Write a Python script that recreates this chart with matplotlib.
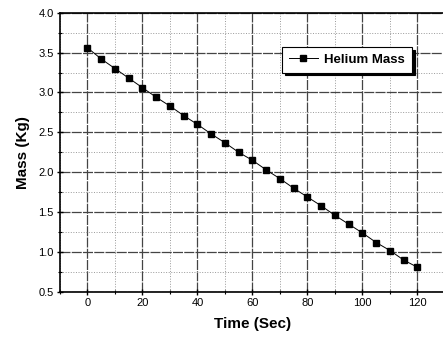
import matplotlib
matplotlib.use("Agg")
import matplotlib.pyplot as plt
from matplotlib.ticker import MultipleLocator

# helium mass readings, every 5 s
time_s = [0, 5, 10, 15, 20, 25, 30, 35, 40, 45, 50, 55, 60,
          65, 70, 75, 80, 85, 90, 95, 100, 105, 110, 115, 120]
mass_kg = [3.56, 3.42, 3.30, 3.18, 3.06, 2.94, 2.83, 2.71, 2.60, 2.48, 2.37, 2.25, 2.15,
           2.03, 1.92, 1.80, 1.69, 1.58, 1.46, 1.35, 1.24, 1.12, 1.02, 0.90, 0.81]

plt.rcParams["font.family"] = ["Liberation Sans", "DejaVu Sans"]

fig = plt.figure(figsize=(4.43, 3.41), dpi=100)
# right spine sits just past the image edge, as in the original scan
ax = fig.add_axes([0.1354, 0.1437, 0.869, 0.8191])

ax.plot(time_s, mass_kg, color="black", lw=0.7, marker="s", ms=5,
        markerfacecolor="black", markeredgecolor="black", label="Helium Mass", zorder=3)

ax.set_xlim(-10, 130)
ax.set_ylim(0.5, 4.0)
ax.xaxis.set_major_locator(MultipleLocator(20))
ax.xaxis.set_minor_locator(MultipleLocator(10))
ax.yaxis.set_major_locator(MultipleLocator(0.5))
ax.yaxis.set_minor_locator(MultipleLocator(0.25))
ax.set_xticks(range(0, 121, 20))
ax.set_yticks([0.5, 1.0, 1.5, 2.0, 2.5, 3.0, 3.5, 4.0])
ax.set_yticklabels(["0.5", "1.0", "1.5", "2.0", "2.5", "3.0", "3.5", "4.0"])

ax.grid(which="major", color="#444444", lw=0.9, ls=(0, (8, 1)))
ax.grid(which="minor", color="#999999", lw=0.7, ls=":")
ax.set_axisbelow(True)

ax.tick_params(which="major", direction="inout", length=5, width=1, labelsize=8,
               colors="black", pad=2)
ax.tick_params(which="minor", direction="inout", length=3, width=0.8)
for s in ax.spines.values():
    s.set_linewidth(1.2)

ax.set_xlabel("Time (Sec)", fontsize=11, fontweight="bold", labelpad=6)
ax.set_ylabel("Mass (Kg)", fontsize=11, fontweight="bold", labelpad=6)

leg = ax.legend(loc="upper left", bbox_to_anchor=(0.56, 0.90), fancybox=False,
                shadow={"color": "black", "alpha": 1}, framealpha=1, edgecolor="black",
                prop={"weight": "bold", "size": 9.5}, handlelength=2.2,
                borderpad=0.5, handletextpad=0.5)
leg.get_frame().set_linewidth(0.8)

fig.savefig("out.png", dpi=100)
